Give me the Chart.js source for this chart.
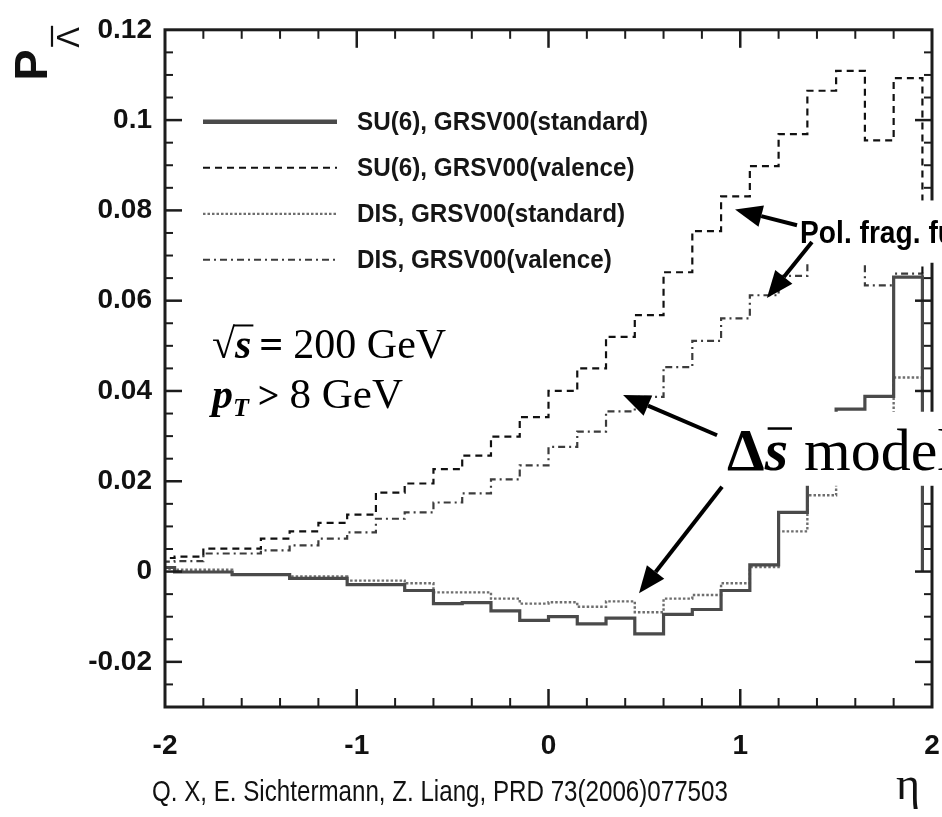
<!DOCTYPE html>
<html>
<head>
<meta charset="utf-8">
<script src="https://cdn.jsdelivr.net/npm/chart.js@4.4.1/dist/chart.umd.min.js"></script>
<style>
  html, body { margin: 0; padding: 0; background: #ffffff; }
  canvas { display: block; }
</style>
</head>
<body>
<canvas id="chart" width="942" height="817"></canvas>
<script>
// Histogram bin edges in pseudorapidity (bins of width 0.15)
const etaEdges = [-2.1, -1.95, -1.8, -1.65, -1.5, -1.35, -1.2, -1.05, -0.9, -0.75, -0.6, -0.45, -0.3, -0.15,
                  0, 0.15, 0.3, 0.45, 0.6, 0.75, 0.9, 1.05, 1.2, 1.35, 1.5, 1.65, 1.8, 1.95];

// Lambda-bar polarization per bin
const su6Standard = [0.0009, -0.0001, -0.0001, -0.0007, -0.0007, -0.0015, -0.0015, -0.0029, -0.0029, -0.0042,
                     -0.0071, -0.0069, -0.0087, -0.0108, -0.0100, -0.0116, -0.0103, -0.0138, -0.0095, -0.0084,
                     -0.0042, 0.0015, 0.0131, 0.0250, 0.0360, 0.0388, 0.0652];
const su6Valence  = [0.0030, 0.0033, 0.0051, 0.0051, 0.0073, 0.0089, 0.0108, 0.0126, 0.0175, 0.0195,
                     0.0227, 0.0257, 0.0299, 0.0342, 0.0400, 0.0450, 0.0520, 0.0568, 0.0663, 0.0754,
                     0.0831, 0.0898, 0.0969, 0.1065, 0.1109, 0.0955, 0.1093];
const disStandard = [0.0006, 0.0004, 0.0004, -0.0006, -0.0006, -0.0011, -0.0011, -0.0020, -0.0020, -0.0026,
                     -0.0046, -0.0046, -0.0060, -0.0071, -0.0068, -0.0078, -0.0066, -0.0090, -0.0060, -0.0052,
                     -0.0026, 0.0010, 0.0089, 0.0169, 0.0250, 0.0300, 0.0430];
const disValence  = [0.0022, 0.0023, 0.0040, 0.0040, 0.0047, 0.0058, 0.0073, 0.0087, 0.0117, 0.0131,
                     0.0153, 0.0173, 0.0204, 0.0235, 0.0276, 0.0310, 0.0355, 0.0387, 0.0453, 0.0511,
                     0.0561, 0.0612, 0.0655, 0.0710, 0.0740, 0.0634, 0.0660];

const seriesNames = ['SU(6), GRSV00(standard)', 'SU(6), GRSV00(valence)',
                     'DIS, GRSV00(standard)', 'DIS, GRSV00(valence)'];

const xTickValues = [-2, -1, 0, 1, 2];
const yTickValues = [-0.02, 0, 0.02, 0.04, 0.06, 0.08, 0.1, 0.12];

const citation = 'Q. X, E. Sichtermann, Z. Liang, PRD 73(2006)077503';

// Annotation anchors, in axis units (eta, P)
const arrows = [
  { from: [1.296, 0.0767], to: [0.973, 0.0802] },
  { from: [1.374, 0.0730], to: [1.139, 0.0606] },
  { from: [0.879, 0.0302], to: [0.389, 0.0391] },
  { from: [0.905, 0.0188], to: [0.472, -0.0048] }
];
const polFragNote = { text: 'Pol. frag. func.', eta: 1.312, p: 0.0727, box: [1.253, 0.0822, 0.0684] };
const modelNote   = { eta: 0.931, p: 0.0226, box: [0.868, 0.0354, 0.0190] };
const energyNote  = { eta: -1.755, p: 0.0472 };
const ptNote      = { eta: -1.755, p: 0.0362 };

// Outline of a histogram: rises from zero at the first edge, drops to zero after the last bin
function histogramOutline(values) {
  const pts = [{ x: etaEdges[0], y: 0 }];
  values.forEach((v, i) => pts.push({ x: etaEdges[i], y: v }));
  const last = etaEdges[values.length];
  pts.push({ x: last, y: values[values.length - 1] });
  pts.push({ x: last, y: 0 });
  return pts;
}

const seriesStyles = [
  { color: '#4a4a4a', width: 3.2, dash: [], legendWidth: 4.5 },
  { color: '#111111', width: 2.2, dash: [7, 5], legendWidth: 2 },
  { color: '#6e6e6e', width: 2.4, dash: [2.5, 2], legendWidth: 2.2 },
  { color: '#3c3c3c', width: 2.2, dash: [7, 4, 2, 4], legendWidth: 2 }
];
const seriesValues = [su6Standard, su6Valence, disStandard, disValence];

const datasets = seriesValues.map((vals, i) => ({
  label: seriesNames[i],
  data: histogramOutline(vals),
  borderColor: seriesStyles[i].color,
  borderWidth: seriesStyles[i].width,
  borderDash: seriesStyles[i].dash,
  stepped: 'before',
  pointRadius: 0,
  fill: false
}));

function drawRuns(ctx, runs, x, y) {
  let cx = x;
  const spans = [];
  for (const r of runs) {
    ctx.font = r.font;
    const w = ctx.measureText(r.text).width;
    ctx.fillText(r.text, cx + (r.dx || 0), y + (r.dy || 0));
    spans.push([cx, cx + w]);
    cx += w + (r.gap || 0);
  }
  return spans;
}

function arrow(ctx, x0, y0, x1, y1) {
  const ang = Math.atan2(y1 - y0, x1 - x0);
  const len = 27, half = 11;
  const bx = x1 - len * Math.cos(ang), by = y1 - len * Math.sin(ang);
  ctx.beginPath();
  ctx.moveTo(x0, y0);
  ctx.lineTo(bx, by);
  ctx.lineWidth = 4;
  ctx.stroke();
  ctx.beginPath();
  ctx.moveTo(x1, y1);
  ctx.lineTo(bx + half * Math.sin(ang), by - half * Math.cos(ang));
  ctx.lineTo(bx - half * Math.sin(ang), by + half * Math.cos(ang));
  ctx.closePath();
  ctx.fill();
}

// Closed frame with inward ticks on all four sides
const framePlugin = {
  id: 'frameTicks',
  afterDatasetsDraw(chart) {
    const { ctx, chartArea: a, scales: { x, y } } = chart;
    ctx.save();
    ctx.strokeStyle = '#1c1c1c';
    const seg = (x0, y0, x1, y1) => { ctx.beginPath(); ctx.moveTo(x0, y0); ctx.lineTo(x1, y1); ctx.stroke(); };
    for (let k = 0; k <= 20; k++) {
      const v = -2 + k * 0.2;
      const major = k % 5 === 0;
      const px = x.getPixelForValue(v);
      const L = major ? 18 : 9;
      ctx.lineWidth = major ? 2.5 : 2;
      if (k > 0 && k < 20) {
        seg(px, a.bottom, px, a.bottom - L);
        seg(px, a.top, px, a.top + L);
      }
    }
    for (let k = 0; k <= 30; k++) {
      const v = -0.03 + k * 0.005;
      const major = Math.abs(Math.round(v * 1000) % 20) === 0;
      const py = y.getPixelForValue(v);
      const L = major ? 17 : 8;
      ctx.lineWidth = major ? 2.5 : 2;
      if (k > 0 && k < 30) {
        seg(a.left, py, a.left + L, py);
        seg(a.right, py, a.right - L, py);
      }
    }
    ctx.lineWidth = 3;
    ctx.strokeRect(a.left, a.top, a.right - a.left, a.bottom - a.top);
    ctx.restore();
  }
};

// Legend, axis titles, notes and arrows
const notesPlugin = {
  id: 'notes',
  afterDraw(chart) {
    const { ctx, chartArea: a, scales: { x, y } } = chart;
    const X = v => x.getPixelForValue(v);
    const Y = v => y.getPixelForValue(v);
    ctx.save();

    // legend inside the frame
    ctx.textBaseline = 'middle';
    ctx.fillStyle = '#161616';
    seriesNames.forEach((name, i) => {
      const ly = a.top + 92 + i * 46;
      const st = seriesStyles[i];
      ctx.save();
      ctx.strokeStyle = st.color;
      ctx.lineWidth = st.legendWidth;
      ctx.setLineDash(st.dash);
      ctx.beginPath();
      ctx.moveTo(a.left + 38, ly);
      ctx.lineTo(a.left + 172, ly);
      ctx.stroke();
      ctx.restore();
      ctx.save();
      ctx.font = 'bold 25px "Liberation Sans", Arial, sans-serif';
      ctx.translate(a.left + 192, ly + 1);
      ctx.scale(0.97, 1);
      ctx.fillText(name, 0, 0);
      ctx.restore();
    });

    // sqrt(s) = 200 GeV
    ctx.textBaseline = 'alphabetic';
    ctx.fillStyle = '#000';
    const serif = '"Liberation Serif", "Times New Roman", serif';
    let ex = X(energyNote.eta), ey = Y(energyNote.p);
    const sp = drawRuns(ctx, [
      { text: '\u221A', font: '42px ' + serif },
      { text: 's', font: 'italic bold 42px ' + serif, gap: 8 },
      { text: '=', font: 'bold 42px ' + serif, gap: 10 },
      { text: '200 GeV', font: '42px ' + serif }
    ], ex, ey);
    ctx.lineWidth = 2;
    ctx.strokeStyle = '#000';
    ctx.beginPath();
    ctx.moveTo(sp[0][1] - 2, ey - 33);
    ctx.lineTo(sp[1][1] + 2, ey - 33);
    ctx.stroke();

    // p_T > 8 GeV
    const px0 = X(ptNote.eta), py0 = Y(ptNote.p);
    drawRuns(ctx, [
      { text: 'p', font: 'italic bold 42px ' + serif },
      { text: 'T', font: 'italic bold 26px ' + serif, dy: 8, gap: 9 },
      { text: '>', font: 'bold 38px ' + serif, gap: 10 },
      { text: '8 GeV', font: '43px ' + serif }
    ], px0, py0);

    // white label boxes drawn over the frame
    const cw = chart.width;
    ctx.fillStyle = '#fff';
    const pb = polFragNote.box;
    ctx.fillRect(X(pb[0]), Y(pb[1]), cw, Y(pb[2]) - Y(pb[1]));
    const mb = modelNote.box;
    ctx.fillRect(X(mb[0]), Y(mb[1]), cw, Y(mb[2]) - Y(mb[1]));

    // Pol. frag. func.
    ctx.fillStyle = '#000';
    ctx.save();
    ctx.font = 'bold 32px "Liberation Sans", Arial, sans-serif';
    ctx.translate(X(polFragNote.eta), Y(polFragNote.p));
    ctx.scale(0.88, 1);
    ctx.fillText(polFragNote.text, 0, 0);
    ctx.restore();

    // Delta s-bar model
    const mx = X(modelNote.eta), my = Y(modelNote.p);
    const ms = drawRuns(ctx, [
      { text: '\u0394', font: 'bold 60px ' + serif },
      { text: 's', font: 'italic bold 60px ' + serif, gap: 16 },
      { text: 'model', font: '60px ' + serif }
    ], mx, my);
    ctx.lineWidth = 2.5;
    ctx.beginPath();
    ctx.moveTo(ms[1][0] + 3, my - 41);
    ctx.lineTo(ms[1][1] + 4, my - 41);
    ctx.stroke();

    // arrows
    ctx.strokeStyle = '#000';
    ctx.fillStyle = '#000';
    arrows.forEach(ar => arrow(ctx, X(ar.from[0]), Y(ar.from[1]), X(ar.to[0]), Y(ar.to[1])));

    // y-axis title: P with Lambda-bar subscript, rotated
    ctx.save();
    ctx.translate(a.left - 118, a.top + 51);
    ctx.rotate(-Math.PI / 2);
    ctx.fillStyle = '#111';
    ctx.font = 'bold 47px "Liberation Sans", Arial, sans-serif';
    ctx.fillText('P', 0, 0);
    ctx.font = '31px "Liberation Sans", Arial, sans-serif';
    ctx.fillText('\u039B', 33, 32);
    ctx.lineWidth = 2.2;
    ctx.strokeStyle = '#111';
    ctx.beginPath();
    ctx.moveTo(34, 5);
    ctx.lineTo(55, 5);
    ctx.stroke();
    ctx.restore();

    // x-axis title and reference line
    ctx.fillStyle = '#111';
    ctx.font = '46px ' + serif;
    ctx.fillText('\u03B7', a.right - 36, a.bottom + 92);
    ctx.save();
    ctx.font = '30px "Liberation Sans", Arial, sans-serif';
    ctx.translate(a.left - 13, a.bottom + 94);
    ctx.scale(0.805, 1);
    ctx.fillText(citation, 0, 0);
    ctx.restore();

    ctx.restore();
  }
};

const tickFont = { family: '"Liberation Sans", Arial, sans-serif', weight: 'bold', size: 28 };

new Chart(document.getElementById('chart'), {
  type: 'line',
  data: { datasets },
  options: {
    responsive: false,
    devicePixelRatio: 1,
    animation: false,
    layout: { padding: { left: 0, right: 10, top: 21, bottom: 0 } },
    plugins: { legend: { display: false }, tooltip: { enabled: false } },
    scales: {
      x: {
        type: 'linear',
        min: -2,
        max: 2,
        afterBuildTicks: s => { s.ticks = xTickValues.map(v => ({ value: v })); },
        afterFit: s => { s.height = 110; s.paddingLeft = 0; s.paddingRight = 0; },
        grid: { display: false, drawTicks: false },
        border: { display: false },
        ticks: { font: tickFont, color: '#111', padding: 22, maxRotation: 0, autoSkip: false,
                 callback: v => String(v) }
      },
      y: {
        type: 'linear',
        min: -0.03,
        max: 0.12,
        afterBuildTicks: s => { s.ticks = yTickValues.map(v => ({ value: v })); },
        afterFit: s => { s.width = 165; },
        grid: { display: false, drawTicks: false },
        border: { display: false },
        ticks: { font: tickFont, color: '#111', padding: 13, autoSkip: false,
                 callback: v => String(Math.round(v * 100) / 100) }
      }
    }
  },
  plugins: [framePlugin, notesPlugin]
});
</script>
</body>
</html>
